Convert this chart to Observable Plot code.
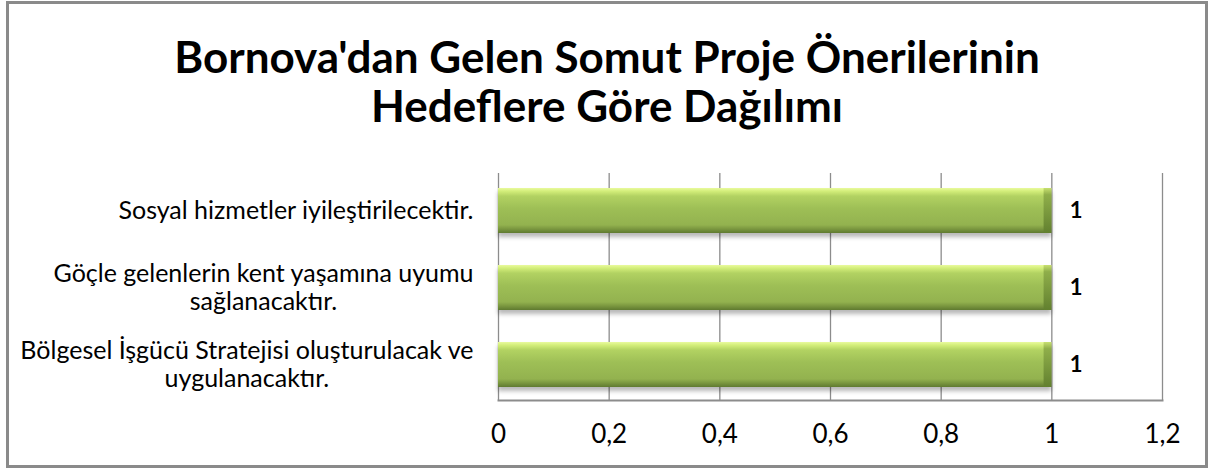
<!DOCTYPE html>
<html><head><meta charset="utf-8">
<script src="https://cdn.jsdelivr.net/npm/d3@7"></script>
<script src="https://cdn.jsdelivr.net/npm/@observablehq/plot@0.6"></script>
<style>
body{margin:0;background:#fff;width:1209px;height:468px;overflow:hidden;position:relative;}
#frame{position:absolute;left:6px;top:1px;width:1202px;height:467px;border:3px solid #8a8a8a;box-sizing:border-box;}
#title{position:absolute;left:6px;width:1202px;top:32px;text-align:center;font-family:Lato,sans-serif;font-weight:bold;font-size:44px;line-height:49px;color:#000;}
#chart{position:absolute;left:0;top:0;}
.bars{filter:drop-shadow(0px 4px 2px rgba(0,0,0,0.28));}
</style></head>
<body>
<div id="frame"></div>
<div id="title">Bornova'dan Gelen Somut Proje Önerilerinin<br>Hedeflere Göre Dağılımı</div>
<div id="chart"></div>
<script>
const categories = [
  "Bölgesel İşgücü Stratejisi oluşturulacak ve\nuygulanacaktır.",
  "Göçle gelenlerin kent yaşamına uyumu\nsağlanacaktır.",
  "Sosyal hizmetler iyileştirilecektir."
];
const values = [1, 1, 1];
const tickValues = [0, 0.2, 0.4, 0.6, 0.8, 1, 1.2];

const data = categories.map((c, i) => ({cat: c, val: values[i]}));
const order = categories.slice().reverse();

const chart = Plot.plot({
  width: 1209, height: 468,
  marginLeft: 498, marginRight: 47, marginTop: 173, marginBottom: 68,
  style: {fontFamily: "Lato, sans-serif", fontSize: "26px", background: "transparent", color: "#000", overflow: "visible"},
  x: {domain: [0, 1.2], ticks: tickValues, tickFormat: d => String(d).replace(".", ","), tickSize: 0, tickPadding: 24, label: null},
  y: {domain: order, range: [171, 403.5], paddingInner: 0.42, paddingOuter: 0.21, axis: null},
  marks: [
    Plot.ruleX(tickValues, {stroke: "#8c8c8c", strokeWidth: 1.3, strokeOpacity: 1}),
    Plot.frame({anchor: "bottom", stroke: "#8c8c8c", strokeWidth: 2, strokeOpacity: 1}),
    Plot.barX(data, {y: "cat", x: "val", fill: "url(#barGrad)", className: "bars"}),
    Plot.barX(data, {y: "cat", x1: d => d.val - 0.014, x2: "val", fill: "url(#capGrad)"}),
    Plot.text(data, {y: "cat", x: "val", text: d => String(d.val), dx: 18, textAnchor: "start", fontWeight: "bold", fontSize: 22}),
    Plot.text(data, {y: "cat", x: 0, text: "cat", textAnchor: "end", dx: -25, dy: -1, lineHeight: 1.12, fontSize: 25, className: "ylab"})
  ]
});

const svg = d3.select(chart);
const defs = svg.insert("defs", ":first-child");
const g1 = defs.append("linearGradient").attr("id", "barGrad").attr("x1", 0).attr("y1", 0).attr("x2", 0).attr("y2", 1);
[[0, "#e9fa9e"], [0.07, "#d3ee7a"], [0.18, "#b2d262"], [0.45, "#9ebf56"], [0.82, "#93b24f"], [0.9, "#7d9a41"], [1, "#5f7a30"]]
  .forEach(([o, c]) => g1.append("stop").attr("offset", o).attr("stop-color", c));
const g2 = defs.append("linearGradient").attr("id", "capGrad").attr("x1", 0).attr("y1", 0).attr("x2", 0).attr("y2", 1);
[[0, "#c8e070"], [0.15, "#8fae4a"], [1, "#62802f"]]
  .forEach(([o, c]) => g2.append("stop").attr("offset", o).attr("stop-color", c));

document.getElementById("chart").appendChild(chart);

svg.selectAll("g.ylab text").each(function() {
  const w = this.getBBox().width;
  const t = this.getAttribute("transform") || "";
  this.setAttribute("text-anchor", "middle");
  this.setAttribute("transform", t + ` translate(${-w / 2},0)`);
});
</script>
</body></html>
